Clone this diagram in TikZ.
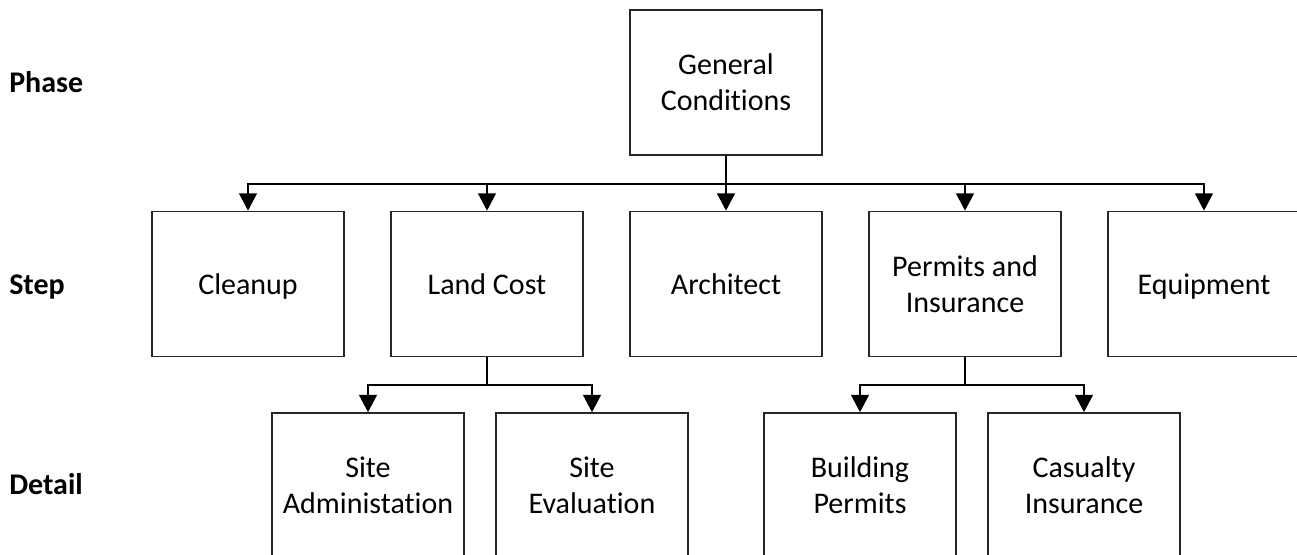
\documentclass[tikz,border=0pt]{standalone}
\usepackage{fontspec}
\setmainfont[Ligatures=NoCommon]{Carlito}
\usetikzlibrary{arrows.meta}
\newcommand\mystr{\rule[-5.85pt]{0pt}{27pt}}
\begin{document}
\begin{tikzpicture}[x=0.75pt,y=-0.75pt,
  box/.style={draw=black!85,line width=1.3pt,fill=white,minimum width=144pt,minimum height=108.75pt,
    align=center,inner sep=0pt,font=\fontsize{22.5}{27}\selectfont},
  lvl/.style={anchor=west,inner sep=0pt,font=\fontsize{22.5}{27}\selectfont\bfseries},
  arr/.style={line width=1.1pt,-{Triangle[width=13.5pt,length=13pt]}},
  trunk/.style={line width=2.2pt}]
\clip (0,0) rectangle (1297,555);
\fill[white] (0,0) rectangle (1297,555);
\node[lvl] (lp) at (9,82) {\mystr Phase};
\node[lvl] (ls) at (9,284) {\mystr Step};
\node[lvl] (ld) at (9,484) {\mystr Detail};
\node[box] (gc) at (726,82.5) {\mystr General\\Conditions\mystr};
\node[box] (cl) at (248,284) {\mystr Cleanup};
\node[box] (lc) at (487,284) {\mystr Land Cost};
\node[box] (ar) at (726,284) {\mystr Architect};
\node[box] (pi) at (965,284) {\mystr Permits and\\Insurance\mystr};
\node[box] (eq) at (1204,284) {\mystr Equipment};
\node[box] (sa) at (368,485.5) {\mystr Site\\Administation\mystr};
\node[box] (se) at (592,485.5) {\mystr Site\\Evaluation\mystr};
\node[box] (bp) at (860,485.5) {\mystr Building\\Permits\mystr};
\node[box] (ci) at (1084,485.5) {\mystr Casualty\\Insurance\mystr};
\coordinate (b1) at (726,184);
\coordinate (b2) at (487,385);
\coordinate (b3) at (965,385);
\draw[trunk] (gc.south) -- (b1);
\foreach \t in {cl,lc,ar,pi,eq} \draw[arr] (b1) -| (\t.north);
\draw[line width=1.1pt] (lc.south) -- (b2);
\foreach \t in {sa,se} \draw[arr] (b2) -| (\t.north);
\draw[line width=1.1pt] (pi.south) -- (b3);
\foreach \t in {bp,ci} \draw[arr] (b3) -| (\t.north);
\end{tikzpicture}
\end{document}
